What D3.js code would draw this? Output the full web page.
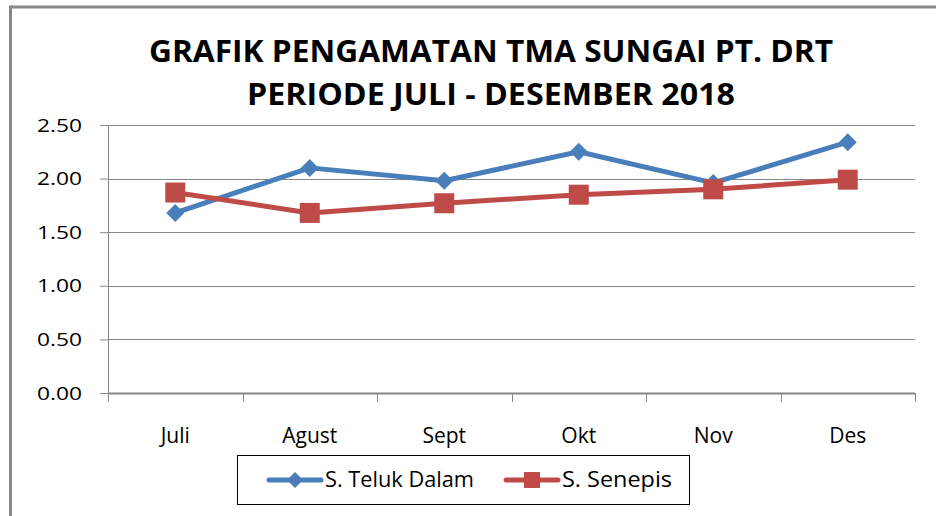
<!DOCTYPE html>
<html>
<head>
<meta charset="utf-8">
<script src="https://cdn.jsdelivr.net/npm/d3@7/dist/d3.min.js"></script>
<style>
  body { margin: 0; background: #fff; }
  svg text { font-family: "Liberation Sans Narrow", "Open Sans", sans-serif; }
</style>
</head>
<body>
<svg width="936" height="516"></svg>
<script>
var months = ["Juli", "Agust", "Sept", "Okt", "Nov", "Des"];
var telukDalam = [1.68, 2.10, 1.98, 2.25, 1.96, 2.34];
var senepis = [1.87, 1.68, 1.77, 1.85, 1.90, 1.99];
var yTicks = [0, 0.5, 1, 1.5, 2, 2.5];
var titleLines = ["GRAFIK PENGAMATAN TMA SUNGAI PT. DRT", "PERIODE JULI - DESEMBER 2018"];

var series = [
  { name: "S. Teluk Dalam", values: telukDalam, color: "#4a7ebb", marker: "diamond" },
  { name: "S. Senepis", values: senepis, color: "#be4b48", marker: "square" }
];

var svg = d3.select("svg");

// chart frame (only top and left edges are visible)
svg.append("line").attr("x1", 10.5).attr("x2", 936).attr("y1", 7).attr("y2", 7)
  .attr("stroke", "#888").attr("stroke-width", 3);
svg.append("line").attr("x1", 10.5).attr("x2", 10.5).attr("y1", 5.5).attr("y2", 516)
  .attr("stroke", "#888").attr("stroke-width", 3);

// title
svg.selectAll(".title").data(titleLines).enter().append("text")
  .attr("class", "title")
  .attr("x", 491)
  .attr("y", function(d, i){ return 62 + i * 43; })
  .attr("text-anchor", "middle")
  .attr("font-size", 30)
  .attr("font-weight", "bold")
  .attr("textLength", function(d, i){ return i == 0 ? 684 : 488; })
  .attr("lengthAdjust", "spacingAndGlyphs")
  .attr("fill", "#000")
  .text(function(d){ return d; });

var plotLeft = 108, plotRight = 915, plotTop = 125, plotBottom = 393;

var x = d3.scaleBand().domain(months).range([plotLeft, plotRight]);
var y = d3.scaleLinear().domain([0, 2.5]).range([plotBottom, plotTop]);

// gridlines
svg.selectAll(".grid").data(yTicks.slice(1)).enter().append("line")
  .attr("x1", plotLeft).attr("x2", plotRight)
  .attr("y1", function(d){ return Math.round(y(d)) + 0.5; })
  .attr("y2", function(d){ return Math.round(y(d)) + 0.5; })
  .attr("stroke", "#868686").attr("stroke-width", 1);

// y axis
var yAxis = svg.append("g").attr("transform", "translate(" + plotLeft + ",0)")
  .call(d3.axisLeft(y).tickValues(yTicks).tickFormat(d3.format(".2f")).tickSize(8).tickPadding(18));
yAxis.select(".domain").attr("stroke", "#868686");
yAxis.selectAll(".tick line").attr("stroke", "#868686");
yAxis.selectAll("text").attr("font-size", 19).attr("fill", "#000")
  .style("font-family", "'Open Sans', sans-serif").attr("textLength", 45).attr("lengthAdjust", "spacingAndGlyphs");

// x axis with ticks on category boundaries
var xAxis = svg.append("g").attr("transform", "translate(0," + plotBottom + ")");
xAxis.append("line").attr("x1", plotLeft).attr("x2", plotRight).attr("y1", 0.5).attr("y2", 0.5)
  .attr("stroke", "#868686").attr("stroke-width", 2);
var bounds = months.map(function(m){ return x(m); }).concat([plotRight]);
xAxis.selectAll(".xt").data(bounds).enter().append("line")
  .attr("x1", function(d){ return Math.round(d) + 0.5; })
  .attr("x2", function(d){ return Math.round(d) + 0.5; })
  .attr("y1", 0).attr("y2", 9)
  .attr("stroke", "#868686");
xAxis.selectAll(".xl").data(months).enter().append("text")
  .attr("x", function(d){ return x(d) + x.bandwidth() / 2; })
  .attr("y", 50)
  .attr("text-anchor", "middle")
  .attr("font-size", 21)
  .attr("fill", "#000")
  .text(function(d){ return d; });

function cx(i){ return x(months[i]) + x.bandwidth() / 2; }

var line = d3.line()
  .x(function(d, i){ return cx(i); })
  .y(function(d){ return y(d); });

function drawMarker(g, type, color, px, py, s){
  if (type == "diamond") {
    g.append("path")
      .attr("d", "M" + px + "," + (py - s) + "L" + (px + s) + "," + py + "L" + px + "," + (py + s) + "L" + (px - s) + "," + py + "Z")
      .attr("fill", color);
  } else {
    g.append("rect").attr("x", px - s).attr("y", py - s).attr("width", 2 * s).attr("height", 2 * s)
      .attr("fill", color);
  }
}

series.forEach(function(s){
  var g = svg.append("g");
  g.append("path").datum(s.values)
    .attr("d", line)
    .attr("fill", "none")
    .attr("stroke", s.color)
    .attr("stroke-width", 5)
    .attr("stroke-linejoin", "round");
  s.values.forEach(function(v, i){
    drawMarker(g, s.marker, s.color, cx(i), y(v), s.marker == "diamond" ? 9 : 10);
  });
});

// legend
svg.append("rect").attr("x", 237.5).attr("y", 455.5).attr("width", 452).attr("height", 49)
  .attr("fill", "#fff").attr("stroke", "#000");
var legendX = [269, 506];
series.forEach(function(s, i){
  var g = svg.append("g");
  var lx = legendX[i];
  g.append("line").attr("x1", lx).attr("x2", lx + 52).attr("y1", 480).attr("y2", 480)
    .attr("stroke", s.color).attr("stroke-width", 5).attr("stroke-linecap", "round");
  drawMarker(g, s.marker, s.color, lx + 26, 480, 8);
  g.append("text").attr("x", lx + 56).attr("y", 487)
    .attr("font-size", 21).attr("fill", "#000")
    .attr("textLength", i == 0 ? 149 : 110).attr("lengthAdjust", "spacingAndGlyphs")
    .text(s.name);
});
</script>
</body>
</html>
